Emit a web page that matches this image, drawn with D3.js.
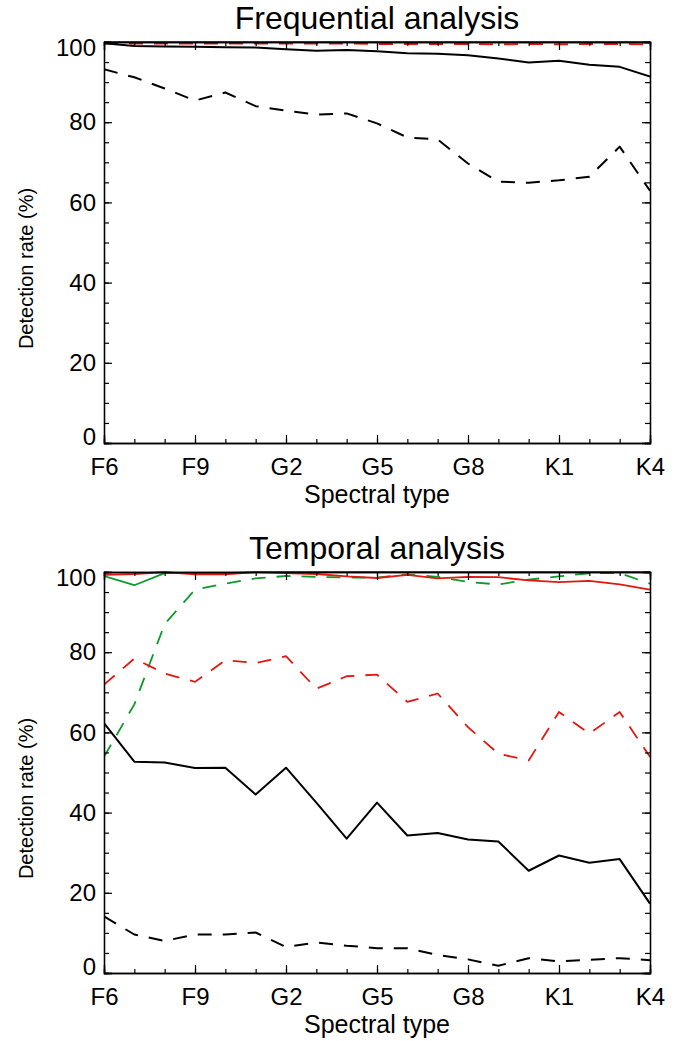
<!DOCTYPE html>
<html>
<head>
<meta charset="utf-8">
<script src="https://cdn.jsdelivr.net/npm/d3@7/dist/d3.min.js"></script>
<style>
    body { margin: 0; background: #fff; }
    svg { display: block; font-family: "Liberation Sans", Arial, sans-serif; }
    .domain { stroke: #000; stroke-width: 1.3; }
    .tick line { stroke: #000; stroke-width: 1.2; }
</style>
</head>
<body>
<script>

var spectralTypes = ['F6', 'F7', 'F8', 'F9', 'G0', 'G1', 'G2', 'G3', 'G4', 'G5',
    'G6', 'G7', 'G8', 'G9', 'K0', 'K1', 'K2', 'K3', 'K4'];
var xTickLabels = ['F6', 'F9', 'G2', 'G5', 'G8', 'K1', 'K4'];
var yTicks = [0, 20, 40, 60, 80, 100];

// frequential analysis
var freqBlackSolid = [99.7, 99.0, 98.9, 98.8, 98.7, 98.6, 98.2, 97.8, 98.0, 97.7,
    97.2, 97.1, 96.7, 95.9, 94.9, 95.3, 94.3, 93.8, 91.4];
var freqBlackDashed = [93.2, 91.2, 88.4, 85.4, 87.4, 84.0, 82.9, 81.9, 82.2, 79.7,
    76.2, 75.7, 69.7, 65.2, 64.9, 65.5, 66.4, 73.9, 62.9];
var freqRedSolid = [100, 100, 100, 100, 100, 100, 100, 100, 100, 100,
    100, 100, 100, 100, 100, 100, 100, 100, 100];
var freqRedDashed = [99.6, 99.6, 99.6, 99.6, 99.6, 99.6, 99.6, 99.6, 99.6, 99.5,
    99.5, 99.5, 99.5, 99.4, 99.5, 99.4, 99.5, 99.5, 99.4];
var freqGreenSolid = [100, 100, 100, 100, 100, 100, 100, 100, 100, 100,
    100, 100, 100, 100, 100, 100, 100, 100, 100];
var freqGreenDashed = [99.9, 99.9, 99.9, 99.9, 99.9, 99.9, 99.9, 99.9, 99.9, 99.9,
    99.9, 99.9, 99.9, 99.9, 99.9, 99.9, 99.9, 99.9, 99.9];

// temporal analysis
var tempBlackSolid = [62.3, 52.7, 52.5, 51.1, 51.2, 44.5, 51.2, 42.5, 33.5, 42.5,
    34.3, 34.9, 33.3, 32.8, 25.5, 29.3, 27.5, 28.4, 17.3];
var tempBlackDashed = [14.1, 9.6, 8.0, 9.6, 9.6, 10.1, 6.5, 7.6, 6.8, 6.2,
    6.2, 4.5, 3.4, 1.8, 3.7, 2.9, 3.3, 3.7, 3.2];
var tempRedSolid = [99.3, 99.5, 100, 99.4, 99.4, 100, 99.7, 99.5, 98.9, 98.5,
    99.3, 98.4, 98.8, 98.7, 97.9, 97.5, 97.8, 96.9, 95.6];
var tempRedDashed = [71.9, 78.4, 74.7, 72.6, 78.0, 77.3, 79.0, 70.9, 74.0, 74.4,
    67.6, 69.7, 61.3, 54.7, 53.0, 65.1, 59.7, 65.1, 53.9];
var tempGreenSolid = [99.0, 96.7, 99.7, 99.7, 99.7, 100, 100, 100, 100, 100,
    100, 100, 100, 100, 100, 100, 100, 100, 100];
var tempGreenDashed = [53.9, 67.0, 87.0, 95.6, 97.1, 98.4, 99.0, 98.8, 98.6, 98.6,
    99.4, 98.8, 97.5, 96.9, 98.1, 98.9, 99.7, 99.7, 97.1];

var red = '#e3170f';
var green = '#0d9a2c';
var dash = '14,11';

var width = 690, height = 1041;
var left = 104, right = 650, plotHeight = 401;

var svg = d3.select('body')
    .append('svg')
    .attr('width', width)
    .attr('height', height)
;

var x = d3.scaleLinear()
    .domain([0, spectralTypes.length - 1])
    .range([left, right])
;

function drawPanel(top, title, series, clipId) {

    var y = d3.scaleLinear()
        .domain([0, 100])
        .range([top + plotHeight, top])
    ;

    svg.append('clipPath')
        .attr('id', clipId)
        .append('rect')
        .attr('x', left)
        .attr('y', top - 1)
        .attr('width', right - left)
        .attr('height', plotHeight + 1)
    ;

    var lineFunction = d3.line()
        .x(function (d, i) { return x(i); })
        .y(function (d) { return y(d); })
    ;

    var lines = svg.append('g').attr('clip-path', 'url(#' + clipId + ')');

    series.forEach(function (s) {
        lines.append('path')
            .attr('d', lineFunction(s.values))
            .attr('fill', 'none')
            .attr('stroke', s.color)
            .attr('stroke-width', s.color === '#000' ? 2 : 1.8)
            .attr('stroke-dasharray', s.dashed ? dash : null)
            .attr('stroke-linejoin', 'round')
        ;
    });

    var majorX = xTickLabels.map(function (t) { return spectralTypes.indexOf(t); });
    var minorX = d3.range(spectralTypes.length);
    var minorY = d3.range(0, 101, 5);

    // minor ticks first, then major ticks with labels
    svg.append('g')
        .attr('transform', 'translate(0,' + (top + plotHeight) + ')')
        .call(d3.axisBottom(x).tickValues(minorX).tickSize(-4).tickFormat(''))
    ;
    svg.append('g')
        .attr('transform', 'translate(0,' + top + ')')
        .call(d3.axisTop(x).tickValues(minorX).tickSize(-4).tickFormat(''))
    ;
    svg.append('g')
        .attr('transform', 'translate(' + left + ',0)')
        .call(d3.axisLeft(y).tickValues(minorY).tickSize(-5).tickFormat(''))
    ;
    svg.append('g')
        .attr('transform', 'translate(' + right + ',0)')
        .call(d3.axisRight(y).tickValues(minorY).tickSize(-5).tickFormat(''))
    ;

    var xAxis = svg.append('g')
        .attr('transform', 'translate(0,' + (top + plotHeight) + ')')
        .call(d3.axisBottom(x)
            .tickValues(majorX)
            .tickSize(-8)
            .tickPadding(15)
            .tickFormat(function (d) { return spectralTypes[d]; }))
    ;
    svg.append('g')
        .attr('transform', 'translate(0,' + top + ')')
        .call(d3.axisTop(x).tickValues(majorX).tickSize(-8).tickFormat(''))
    ;
    var yAxis = svg.append('g')
        .attr('transform', 'translate(' + left + ',0)')
        .call(d3.axisLeft(y).tickValues(yTicks).tickSize(-8).tickPadding(8))
    ;
    svg.append('g')
        .attr('transform', 'translate(' + right + ',0)')
        .call(d3.axisRight(y).tickValues(yTicks).tickSize(-8).tickFormat(''))
    ;

    xAxis.selectAll('text')
        .attr('font-size', 24)
        .attr('fill', '#000')
        .attr('font-family', null)
    ;
    yAxis.selectAll('text')
        .attr('font-size', 24)
        .attr('fill', '#000')
        .attr('font-family', null)
        .attr('dy', function (d) {
            if (d === 100) return '0.55em';
            if (d === 0) return '0.05em';
            return '0.32em';
        })
    ;

    svg.append('text')
        .attr('x', (left + right) / 2)
        .attr('y', top - 13)
        .attr('text-anchor', 'middle')
        .attr('font-size', 32)
        .text(title)
    ;

    svg.append('text')
        .attr('x', (left + right) / 2)
        .attr('y', top + plotHeight + 60)
        .attr('text-anchor', 'middle')
        .attr('font-size', 25)
        .text('Spectral type')
    ;

    svg.append('text')
        .attr('transform', 'translate(33,' + (top + plotHeight / 2 + 26) + ') rotate(-90)')
        .attr('text-anchor', 'middle')
        .attr('font-size', 20)
        .text('Detection rate (%)')
    ;
}

drawPanel(42, 'Frequential analysis', [
    {values: freqGreenSolid, color: green},
    {values: freqRedSolid, color: red},
    {values: freqGreenDashed, color: green, dashed: true},
    {values: freqRedDashed, color: red, dashed: true},
    {values: freqBlackSolid, color: '#000'},
    {values: freqBlackDashed, color: '#000', dashed: true}
], 'clipFreq');

drawPanel(572, 'Temporal analysis', [
    {values: tempGreenSolid, color: green},
    {values: tempGreenDashed, color: green, dashed: true},
    {values: tempRedSolid, color: red},
    {values: tempRedDashed, color: red, dashed: true},
    {values: tempBlackSolid, color: '#000'},
    {values: tempBlackDashed, color: '#000', dashed: true}
], 'clipTemp');

</script>
</body>
</html>
